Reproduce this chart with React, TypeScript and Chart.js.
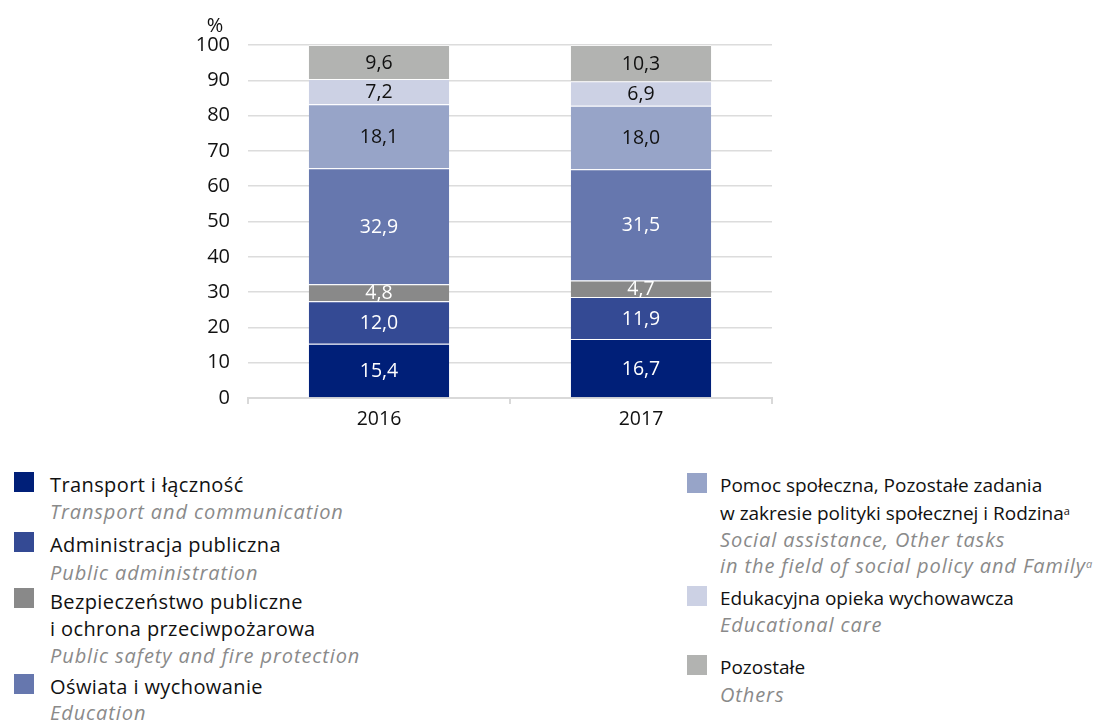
import React, { useEffect, useRef } from "react";
import { Chart, registerables } from "chart.js";

Chart.register(...registerables);

const years = ["2016", "2017"];
const seriesNames = [
  "Transport i łączność",
  "Administracja publiczna",
  "Bezpieczeństwo publiczne i ochrona przeciwpożarowa",
  "Oświata i wychowanie",
  "Pomoc społeczna, Pozostałe zadania w zakresie polityki społecznej i Rodzina",
  "Edukacyjna opieka wychowawcza",
  "Pozostałe",
];
const transport = [15.4, 16.7];
const administracja = [12.0, 11.9];
const bezpieczenstwo = [4.8, 4.7];
const oswiata = [32.9, 31.5];
const pomoc = [18.1, 18.0];
const edukacyjna = [7.2, 6.9];
const pozostale = [9.6, 10.3];
const yTicks = [0, 10, 20, 30, 40, 50, 60, 70, 80, 90, 100];

const seriesValues = [transport, administracja, bezpieczenstwo, oswiata, pomoc, edukacyjna, pozostale];
const seriesColors = ["#001f78", "#344a94", "#898989", "#6677ae", "#97a4c8", "#ccd1e4", "#b2b3b1"];
const labelColors = ["#ffffff", "#ffffff", "#ffffff", "#ffffff", "#111111", "#111111", "#111111"];

const FONT = "'Open Sans', sans-serif";

const valueLabels = {
  id: "valueLabels",
  afterDatasetsDraw(chart: any) {
    const ctx = chart.ctx;
    ctx.save();
    ctx.font = `19.5px ${FONT}`;
    ctx.textAlign = "center";
    ctx.textBaseline = "middle";
    chart.data.datasets.forEach((ds: any, i: number) => {
      const meta = chart.getDatasetMeta(i);
      meta.data.forEach((el: any, j: number) => {
        const v = ds.data[j] as number;
        const y = (el.y + el.base) / 2;
        ctx.fillStyle = labelColors[i];
        ctx.fillText(v.toFixed(1).replace(".", ","), el.x, y + 1);
      });
    });
    ctx.restore();
  },
};

type Line = { text: React.ReactNode; y: number; italic?: boolean };

const leftLegend: { color: string; sq: number; lines: Line[] }[] = [
  { color: seriesColors[0], sq: 472, lines: [
    { text: "Transport i łączność", y: 485 },
    { text: "Transport and communication", y: 512, italic: true },
  ] },
  { color: seriesColors[1], sq: 532, lines: [
    { text: "Administracja publiczna", y: 545 },
    { text: "Public administration", y: 573, italic: true },
  ] },
  { color: seriesColors[2], sq: 588, lines: [
    { text: "Bezpieczeństwo publiczne", y: 602 },
    { text: "i ochrona przeciwpożarowa", y: 629 },
    { text: "Public safety and fire protection", y: 656, italic: true },
  ] },
  { color: seriesColors[3], sq: 674, lines: [
    { text: "Oświata i wychowanie", y: 687 },
    { text: "Education", y: 713, italic: true },
  ] },
];

const supStyle: React.CSSProperties = { fontSize: 11, verticalAlign: "top", position: "relative", top: -2 };

const rightLegend: { color: string; sq: number; lines: Line[] }[] = [
  { color: seriesColors[4], sq: 473, lines: [
    { text: "Pomoc społeczna, Pozostałe zadania", y: 485 },
    { text: <>w zakresie polityki społecznej i Rodzina<span style={supStyle}>a</span></>, y: 513 },
    { text: "Social assistance, Other tasks", y: 540, italic: true },
    { text: <>in the field of social policy and Family<span style={supStyle}>a</span></>, y: 566, italic: true },
  ] },
  { color: seriesColors[5], sq: 586, lines: [
    { text: "Edukacyjna opieka wychowawcza", y: 598 },
    { text: "Educational care", y: 625, italic: true },
  ] },
  { color: seriesColors[6], sq: 655, lines: [
    { text: "Pozostałe", y: 667 },
    { text: "Others", y: 695, italic: true },
  ] },
];

function LegendColumn({ items, sqX, textX, regSize, regSpacing }: { items: typeof leftLegend; sqX: number; textX: number; regSize: number; regSpacing: number }) {
  return (
    <>
      {items.map((it, i) => (
        <React.Fragment key={i}>
          <div style={{ position: "absolute", left: sqX, top: it.sq, width: 20, height: 20, background: it.color }} />
          {it.lines.map((ln, k) => (
            <div
              key={k}
              style={{
                position: "absolute",
                left: textX,
                top: ln.y - 14,
                height: 28,
                lineHeight: "28px",
                fontSize: ln.italic ? 20 : regSize,
                letterSpacing: ln.italic ? 0.9 : regSpacing,
                fontFamily: FONT,
                whiteSpace: "nowrap",
                color: ln.italic ? "#8a8a8a" : "#111111",
                fontStyle: ln.italic ? "italic" : "normal",
              }}
            >
              {ln.text}
            </div>
          ))}
        </React.Fragment>
      ))}
    </>
  );
}

export default function App() {
  const ref = useRef<HTMLCanvasElement>(null);
  useEffect(() => {
    document.body.style.margin = "0";
    const chart = new Chart(ref.current!, {
      type: "bar",
      data: {
        labels: years,
        datasets: seriesNames.map((name, i) => ({
          label: name,
          data: seriesValues[i],
          backgroundColor: seriesColors[i],
          borderColor: "rgba(255,255,255,0.45)",
          borderWidth: { top: 1, bottom: 0, left: 0, right: 0 },
          borderSkipped: false,
          categoryPercentage: 1,
          barPercentage: 0.536,
        })),
      },
      options: {
        animation: false,
        responsive: false,
        devicePixelRatio: 1,
        layout: { padding: { top: 45, right: 28, left: 0, bottom: 0 } },
        plugins: { legend: { display: false }, tooltip: { enabled: false }, title: { display: false } },
        scales: {
          x: {
            stacked: true,
            grid: { drawOnChartArea: false, drawTicks: true, tickLength: 6, color: "#d9d9d9", lineWidth: 2, offset: true },
            border: { display: true, color: "#d9d9d9", width: 2 },
            ticks: { color: "#111111", font: { family: FONT, size: 19.5 }, padding: 4 },
            afterFit: (s: any) => { s.height = 42; },
          },
          y: {
            stacked: true,
            min: 0,
            max: 100,
            afterBuildTicks: (s: any) => { s.ticks = yTicks.map((v) => ({ value: v })); },
            grid: { drawTicks: false, color: "#dcdcdc", lineWidth: 1.5 },
            border: { display: false },
            ticks: { color: "#111111", font: { family: FONT, size: 20 }, padding: 18 },
            afterFit: (s: any) => { s.width = 248; },
          },
        },
      },
      plugins: [valueLabels],
    } as any);
    return () => chart.destroy();
  }, []);

  return (
    <div style={{ position: "relative", width: 1110, height: 722, background: "#fff", overflow: "hidden" }}>
      <canvas ref={ref} width={800} height={440} style={{ position: "absolute", left: 0, top: 0 }} />
      <div style={{ position: "absolute", left: 205, top: 11, width: 20, textAlign: "center", fontSize: 20, lineHeight: "28px", fontFamily: FONT, color: "#111" }}>%</div>
      <LegendColumn items={leftLegend} sqX={14} textX={50} regSize={20} regSpacing={0.4} />
      <LegendColumn items={rightLegend} sqX={687} textX={720} regSize={19} regSpacing={0} />
    </div>
  );
}
